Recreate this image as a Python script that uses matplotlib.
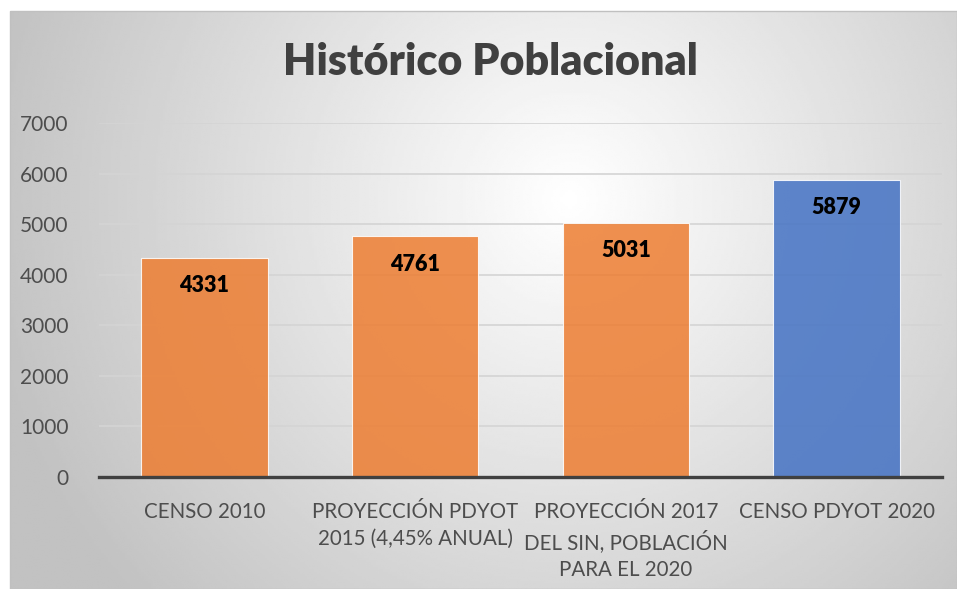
import numpy as np
import matplotlib.pyplot as plt
from matplotlib.patches import Rectangle

categories = ['CENSO 2010',
              'PROYECCIÓN PDYOT\n2015 (4,45% ANUAL)',
              'PROYECCIÓN 2017\nDEL SIN, POBLACIÓN\nPARA EL 2020',
              'CENSO PDYOT 2020']
values = [4331, 4761, 5031, 5879]
colors = ['#ED7D31', '#ED7D31', '#ED7D31', '#4472C4']
yticks = [0, 1000, 2000, 3000, 4000, 5000, 6000, 7000]

plt.rcParams['font.family'] = ['Lato', 'DejaVu Sans']

W, H = 957, 589
fig = plt.figure(figsize=(W / 100, H / 100), dpi=100)
fig.patch.set_facecolor('white')

# radial gradient background of the chart area
bg = fig.add_axes([10 / W, 0, 947 / W, 578 / H], zorder=0)
nx, ny = 400, 250
xx, yy = np.meshgrid(np.linspace(0, 947, nx), np.linspace(0, 578, ny))
cx, cy = 560, 390
d = np.sqrt((xx - cx) ** 2 + (yy - cy) ** 2)
d = d / d.max()
shade = 1 - 0.24 * np.clip(d * 1.15, 0, 1)
bg.imshow(shade, cmap='gray', vmin=0, vmax=1, origin='lower', aspect='auto',
          extent=[0, 1, 0, 1], interpolation='bilinear')
bg.set_xlim(0, 1)
bg.set_ylim(0, 1)
bg.axis('off')
fig.patches.append(Rectangle((10 / W, 0), 947 / W, 578 / H, transform=fig.transFigure,
                             fill=False, edgecolor='#c0c0c0', linewidth=1, zorder=1))

ax = fig.add_axes([99 / W, 1 - 477 / H, 843 / W, 354 / H], zorder=2)
ax.patch.set_alpha(0)
x = np.arange(len(categories))
bars = ax.bar(x, values, width=0.6, color=colors, alpha=0.85,
              edgecolor='white', linewidth=0.8, zorder=3)

ax.set_ylim(0, 7000)
ax.set_xlim(-0.5, len(categories) - 0.5)
ax.set_yticks(yticks)
ax.set_yticklabels([str(t) for t in yticks], fontsize=15, color='#4d4d4d')
ax.set_xticks(x)
ax.set_xticklabels(categories, fontsize=14.8, color='#4d4d4d', linespacing=1.42,
                   va='top')
ax.tick_params(axis='both', length=0)
ax.tick_params(axis='x', pad=18)
ax.tick_params(axis='y', pad=22)
ax.yaxis.grid(True, color='#d4d4d4', linewidth=1.2, zorder=1)
ax.set_axisbelow(True)
for side in ['top', 'right', 'left']:
    ax.spines[side].set_visible(False)
ax.spines['bottom'].set_color('#404040')
ax.spines['bottom'].set_linewidth(2.4)
ax.spines['bottom'].set_zorder(4)

for b, v in zip(bars, values):
    ax.annotate(str(v), (b.get_x() + b.get_width() / 2, v), xytext=(0, -20),
                textcoords='offset points', ha='center', va='center',
                fontsize=15.5, fontweight='heavy', color='black', zorder=5)

fig.text(490 / W, 1 - 62 / H, 'Histórico Poblacional', ha='center', va='center',
         fontsize=31, fontweight='heavy', color='#404040')

fig.savefig('out.png', dpi=100)
